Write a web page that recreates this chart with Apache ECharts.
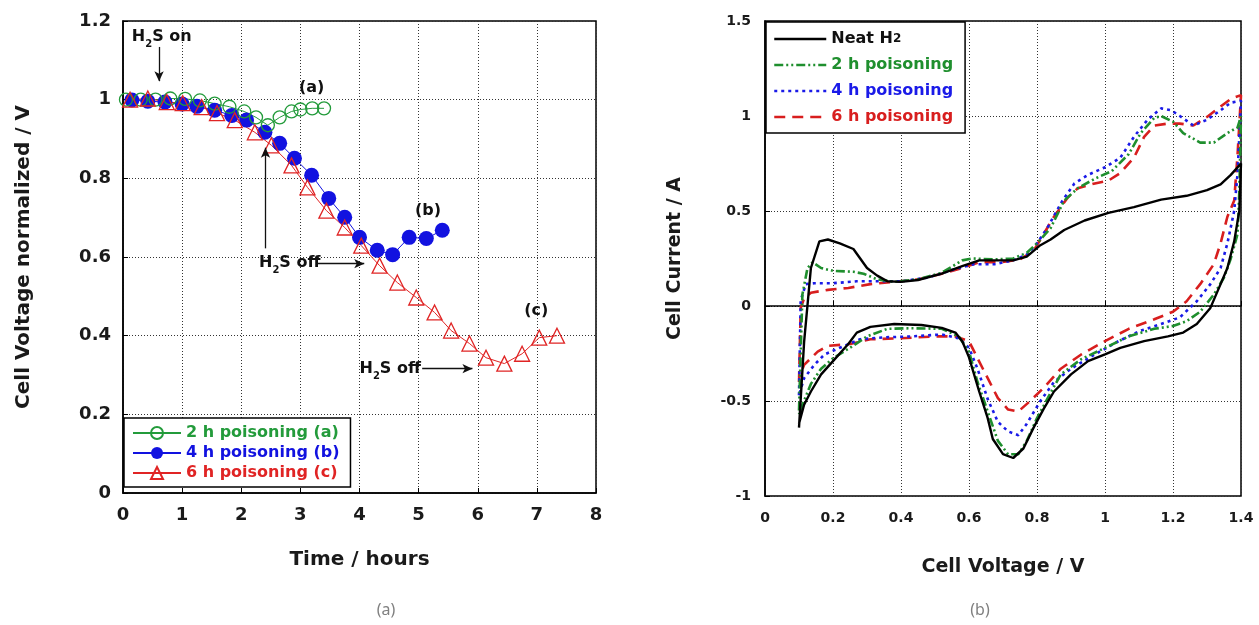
<!DOCTYPE html>
<html>
<head>
<meta charset="utf-8">
<script src="https://cdn.jsdelivr.net/npm/echarts@6/dist/echarts.min.js"></script>
<style>
  html, body { margin: 0; padding: 0; background: #fff; }
  #chart { width: 1259px; height: 625px; }
</style>
</head>
<body>
<div id="chart"></div>
<script>
// ---- Panel (a): normalized cell voltage vs. time under H2S exposure ----
const timeA2h = [0.05, 0.3, 0.55, 0.8, 1.05, 1.3, 1.55, 1.8, 2.05, 2.25, 2.45, 2.65, 2.85, 3.0, 3.2, 3.4];
const voltA2h = [1.0, 1.0, 1.0, 1.003, 1.002, 0.998, 0.99, 0.982, 0.97, 0.955, 0.935, 0.955, 0.97, 0.975, 0.978, 0.978];

const timeB4h = [0.15, 0.42, 0.71, 1.0, 1.25, 1.55, 1.84, 2.09, 2.4, 2.65, 2.9, 3.19, 3.48, 3.75, 4.0, 4.3, 4.56, 4.84, 5.13, 5.4];
const voltB4h = [0.999, 0.996, 0.994, 0.989, 0.983, 0.973, 0.96, 0.948, 0.917, 0.889, 0.851, 0.808, 0.749, 0.701, 0.65, 0.617, 0.606, 0.65, 0.647, 0.668];

const timeC6h = [0.12, 0.42, 0.74, 1.01, 1.33, 1.59, 1.89, 2.23, 2.51, 2.85, 3.12, 3.44, 3.75, 4.03, 4.34, 4.64, 4.96, 5.27, 5.55, 5.86, 6.14, 6.45, 6.75, 7.04, 7.34];
const voltC6h = [1.0, 1.003, 0.994, 0.991, 0.981, 0.966, 0.948, 0.917, 0.884, 0.833, 0.777, 0.718, 0.675, 0.629, 0.578, 0.535, 0.497, 0.459, 0.413, 0.38, 0.344, 0.329, 0.354, 0.395, 0.4];

// annotation arrows [x1, y1, x2, y2] in panel (a) data units (head at x2,y2)
const arrowH2sOn   = [0.61, 1.134, 0.61, 1.047];
const arrowOffUp   = [2.41, 0.622, 2.41, 0.878];
const arrowOffB    = [3.29, 0.583, 4.08, 0.583];
const arrowOffC    = [5.06, 0.316, 5.91, 0.316];

// annotation texts [x, y, text, align]
const notesA = [
  [0.15, 1.16, 'H{s|2}S on', 'left'],
  [2.30, 0.586, 'H{s|2}S off', 'left'],
  [4.00, 0.316, 'H{s|2}S off', 'left'],
  [3.19, 1.03, '(a)', 'center'],
  [5.16, 0.718, '(b)', 'center'],
  [6.99, 0.464, '(c)', 'center']
];

// ---- Panel (b): cyclic voltammograms (forward sweep then reverse sweep) ----
const cvNeatV = [0.10,0.115,0.135,0.16,0.185,0.22,0.26,0.28,0.30,0.33,0.36,0.40,0.45,0.52,0.58,0.63,0.67,0.73,0.77,0.81,0.84,0.88,0.94,1.01,1.085,1.165,1.24,1.30,1.34,1.37,1.40,
                 1.395,1.38,1.36,1.34,1.31,1.27,1.23,1.185,1.115,1.045,1.0,0.95,0.90,0.85,0.82,0.79,0.76,0.73,0.70,0.67,0.655,0.63,0.60,0.58,0.56,0.52,0.46,0.38,0.31,0.27,0.245,0.20,0.165,0.135,0.115,0.10];
const cvNeatI = [-0.64,-0.19,0.20,0.34,0.35,0.33,0.30,0.25,0.20,0.16,0.13,0.127,0.137,0.17,0.21,0.24,0.24,0.24,0.26,0.32,0.35,0.40,0.45,0.49,0.52,0.56,0.58,0.61,0.64,0.69,0.75,
                 0.5,0.34,0.2,0.115,-0.01,-0.095,-0.14,-0.16,-0.185,-0.22,-0.255,-0.29,-0.36,-0.45,-0.54,-0.64,-0.75,-0.80,-0.78,-0.70,-0.59,-0.45,-0.27,-0.185,-0.14,-0.115,-0.10,-0.095,-0.11,-0.14,-0.2,-0.29,-0.36,-0.45,-0.52,-0.62];

const cv2hV = [0.10,0.11,0.125,0.14,0.165,0.2,0.26,0.29,0.33,0.38,0.45,0.52,0.58,0.61,0.675,0.73,0.77,0.80,0.84,0.88,0.92,0.97,1.02,1.07,1.105,1.145,1.165,1.20,1.23,1.28,1.32,1.36,1.39,1.40,
               1.395,1.39,1.37,1.35,1.32,1.28,1.24,1.20,1.145,1.07,1.0,0.93,0.87,0.83,0.80,0.77,0.745,0.715,0.685,0.655,0.625,0.60,0.57,0.52,0.43,0.36,0.30,0.25,0.20,0.165,0.135,0.11,0.10];
const cv2hI = [-0.55,0.06,0.2,0.23,0.2,0.185,0.18,0.17,0.14,0.127,0.14,0.175,0.24,0.25,0.245,0.25,0.28,0.33,0.41,0.555,0.62,0.67,0.71,0.80,0.91,0.99,1.0,0.97,0.91,0.86,0.86,0.91,0.94,1.0,
               0.6,0.38,0.25,0.15,0.06,-0.03,-0.08,-0.105,-0.12,-0.16,-0.22,-0.28,-0.36,-0.49,-0.59,-0.71,-0.78,-0.78,-0.71,-0.555,-0.40,-0.24,-0.16,-0.12,-0.117,-0.12,-0.16,-0.22,-0.275,-0.33,-0.41,-0.52,-0.57];

const cv4hV = [0.10,0.105,0.12,0.145,0.2,0.27,0.33,0.40,0.48,0.56,0.615,0.675,0.73,0.77,0.80,0.83,0.875,0.91,0.95,1.0,1.045,1.085,1.125,1.165,1.195,1.22,1.26,1.30,1.34,1.37,1.40,
               1.39,1.38,1.36,1.34,1.31,1.27,1.22,1.165,1.105,1.04,0.97,0.90,0.85,0.81,0.77,0.745,0.715,0.685,0.655,0.625,0.60,0.57,0.52,0.43,0.35,0.28,0.22,0.175,0.145,0.115,0.10];
const cv4hI = [-0.47,0.03,0.115,0.12,0.12,0.13,0.13,0.13,0.15,0.195,0.22,0.22,0.24,0.27,0.33,0.41,0.555,0.645,0.69,0.73,0.78,0.89,0.98,1.04,1.03,1.0,0.95,0.98,1.03,1.07,1.08,
               0.7,0.5,0.33,0.2,0.115,0.025,-0.06,-0.095,-0.13,-0.185,-0.255,-0.33,-0.40,-0.50,-0.62,-0.68,-0.66,-0.61,-0.49,-0.33,-0.22,-0.17,-0.15,-0.16,-0.165,-0.175,-0.22,-0.255,-0.31,-0.38,-0.47];

const cv6hV = [0.10,0.105,0.115,0.135,0.185,0.245,0.31,0.38,0.45,0.52,0.58,0.63,0.69,0.75,0.79,0.82,0.85,0.89,0.92,0.97,1.01,1.045,1.085,1.115,1.145,1.185,1.22,1.26,1.30,1.34,1.37,1.40,
               1.39,1.38,1.36,1.34,1.32,1.28,1.24,1.20,1.145,1.07,1.0,0.93,0.87,0.82,0.78,0.745,0.715,0.685,0.655,0.625,0.60,0.56,0.50,0.40,0.31,0.25,0.185,0.155,0.135,0.115,0.10];
const cv6hI = [-0.40,-0.01,0.04,0.07,0.085,0.095,0.115,0.127,0.14,0.17,0.2,0.23,0.23,0.245,0.29,0.38,0.47,0.57,0.62,0.645,0.66,0.70,0.78,0.89,0.95,0.96,0.96,0.95,0.995,1.05,1.09,1.11,
               0.8,0.555,0.47,0.33,0.22,0.115,0.025,-0.03,-0.07,-0.12,-0.185,-0.255,-0.33,-0.43,-0.50,-0.555,-0.545,-0.485,-0.38,-0.275,-0.185,-0.16,-0.16,-0.17,-0.175,-0.2,-0.21,-0.24,-0.275,-0.31,-0.38];

const GREEN_A = '#239b3b', BLUE_A = '#1212e0', RED_A = '#e02424';
const GREEN_B = '#1f8f2e', BLUE_B = '#1a1ae8', RED_B = '#d81e1e';
const FONT = "'DejaVu Sans', 'Liberation Sans', Arial, sans-serif";

const zip = (xs, ys) => xs.map((x, i) => [x, ys[i]]);

const splitDots = { show: true, lineStyle: { color: '#333', type: [1, 2], width: 1 } };
const axisLineBlack = { show: true, lineStyle: { color: '#000', width: 1.5 } };
const tickIn = { show: true, inside: true, length: 5, lineStyle: { color: '#000', width: 1 } };
const boldText = (size) => ({ fontFamily: FONT, fontWeight: 'bold', fontSize: size, color: '#1a1a1a' });

// plain CV trace: no point symbols, and none in the legend key either
const cvSeries = (name, v, i, color, width, dash) => ({
  name, type: 'line', xAxisIndex: 1, yAxisIndex: 1, data: zip(v, i),
  symbol: 'none', showSymbol: false, itemStyle: { color },
  lineStyle: { color, width, type: dash }
});

const option = {
  animation: false,
  backgroundColor: '#fff',
  grid: [
    { left: 123, top: 21, width: 473, height: 472, show: true, borderColor: '#000', borderWidth: 1.5, containLabel: false },
    { left: 765, top: 21, width: 476, height: 475, show: true, borderColor: '#000', borderWidth: 1.5, containLabel: false }
  ],
  xAxis: [
    { gridIndex: 0, type: 'value', min: 0, max: 8, interval: 1,
      name: 'Time / hours', nameLocation: 'middle', nameGap: 57, nameTextStyle: boldText(20),
      axisLine: axisLineBlack, axisTick: tickIn, splitLine: splitDots,
      axisLabel: Object.assign({ margin: 13 }, boldText(18)) },
    { gridIndex: 1, type: 'value', min: 0, max: 1.4, interval: 0.2,
      name: 'Cell Voltage / V', nameLocation: 'middle', nameGap: 62, nameTextStyle: boldText(19),
      axisLine: axisLineBlack, axisTick: tickIn, splitLine: splitDots,
      axisLabel: Object.assign({ margin: 15 }, boldText(14)) }
  ],
  yAxis: [
    { gridIndex: 0, type: 'value', min: 0, max: 1.2, interval: 0.2,
      name: 'Cell Voltage normalized / V', nameLocation: 'middle', nameGap: 89, nameTextStyle: boldText(20),
      axisLine: axisLineBlack, axisTick: tickIn, splitLine: splitDots,
      axisLabel: Object.assign({ margin: 12 }, boldText(18)) },
    { gridIndex: 1, type: 'value', min: -1, max: 1.5, interval: 0.5,
      name: 'Cell Current / A', nameLocation: 'middle', nameGap: 80, nameTextStyle: boldText(19),
      axisLine: axisLineBlack, axisTick: tickIn, splitLine: splitDots,
      axisLabel: Object.assign({ margin: 14 }, boldText(14)) }
  ],
  legend: [
    { left: 124, top: 418, orient: 'vertical', selectedMode: false,
      backgroundColor: '#fff', borderColor: '#000', borderWidth: 1.5, borderRadius: 0,
      padding: [7, 11, 6, 8], itemGap: 4, itemWidth: 48, itemHeight: 15,
      textStyle: { fontFamily: FONT, fontWeight: 'bold', fontSize: 16 },
      data: [
        { name: '2 h poisoning (a)', textStyle: { color: GREEN_A } },
        { name: '4 h poisoning (b)', textStyle: { color: BLUE_A } },
        { name: '6 h poisoning (c)', textStyle: { color: RED_A } }
      ] },
    { left: 766, top: 22, orient: 'vertical', selectedMode: false,
      backgroundColor: '#fff', borderColor: '#000', borderWidth: 1.5, borderRadius: 0,
      padding: [9, 12, 8, 7], itemGap: 10, itemWidth: 52, itemHeight: 14,
      lineStyle: { width: 2.5 },
      itemStyle: { opacity: 0 },
      textStyle: { fontFamily: FONT, fontWeight: 'bold', fontSize: 16,
        rich: { s: { fontFamily: FONT, fontWeight: 'bold', fontSize: 12, color: '#111' } } },
      formatter: (name) => name === 'Neat H2' ? 'Neat H{s|2}' : name,
      data: [
        { name: 'Neat H2', textStyle: { color: '#111' } },
        { name: '2 h poisoning', textStyle: { color: GREEN_B } },
        { name: '4 h poisoning', textStyle: { color: BLUE_B } },
        { name: '6 h poisoning', textStyle: { color: RED_B } }
      ] }
  ],
  series: [
    // panel (a)
    { name: '4 h poisoning (b)', type: 'line', xAxisIndex: 0, yAxisIndex: 0,
      data: zip(timeB4h, voltB4h), symbol: 'circle', symbolSize: 15,
      itemStyle: { color: BLUE_A }, lineStyle: { color: BLUE_A, width: 1 } },
    { name: '2 h poisoning (a)', type: 'line', xAxisIndex: 0, yAxisIndex: 0,
      data: zip(timeA2h, voltA2h), symbol: 'circle', symbolSize: 13,
      itemStyle: { color: 'rgba(255,255,255,0)', borderColor: GREEN_A, borderWidth: 1.3 },
      lineStyle: { color: GREEN_A, width: 1 } },
    { name: '6 h poisoning (c)', type: 'line', xAxisIndex: 0, yAxisIndex: 0,
      data: zip(timeC6h, voltC6h), symbol: 'triangle', symbolSize: 15,
      itemStyle: { color: 'rgba(255,255,255,0)', borderColor: RED_A, borderWidth: 1.3 },
      lineStyle: { color: RED_A, width: 1 },
      markLine: {
        silent: true, animation: false, symbol: ['none', 'arrow'], symbolSize: [7, 10],
        label: { show: false }, emphasis: { disabled: true },
        lineStyle: { color: '#111', width: 1.3, type: 'solid' },
        data: [arrowH2sOn, arrowOffUp, arrowOffB, arrowOffC].map(a => [{ coord: [a[0], a[1]] }, { coord: [a[2], a[3]] }])
      } },
    // panel (b)
    cvSeries('6 h poisoning', cv6hV, cv6hI, RED_B, 2.6, [11, 7]),
    cvSeries('4 h poisoning', cv4hV, cv4hI, BLUE_B, 2.6, [3, 4]),
    cvSeries('2 h poisoning', cv2hV, cv2hI, GREEN_B, 2.6, [9, 3, 2, 3, 2, 3]),
    cvSeries('Neat H2', cvNeatV, cvNeatI, '#000', 2.4, 'solid')
  ]
};

const chart = echarts.init(document.getElementById('chart'), null, { renderer: 'canvas' });
chart.setOption(option);

// text notes placed at data positions of panel (a), plus panel captions
const subRich = { s: { fontFamily: FONT, fontWeight: 'bold', fontSize: 10, lineHeight: 9, verticalAlign: 'bottom', fill: '#111' } };
const graphics = notesA.map(([x, y, text, align]) => {
  const p = chart.convertToPixel({ gridIndex: 0 }, [x, y]);
  return {
    type: 'text', x: p[0], y: p[1], z: 100,
    style: { text, fill: '#111', font: "bold 16px " + FONT, align, verticalAlign: 'middle', lineHeight: 26, rich: subRich }
  };
});
graphics.push(
  { type: 'text', x: 386, y: 610, style: { text: '(a)', fill: '#808080', font: "16px 'Noto Sans', sans-serif", align: 'center', verticalAlign: 'middle' } },
  { type: 'text', x: 980, y: 610, style: { text: '(b)', fill: '#808080', font: "16px 'Noto Sans', sans-serif", align: 'center', verticalAlign: 'middle' } }
);
chart.setOption({ graphic: graphics });
</script>
</body>
</html>
